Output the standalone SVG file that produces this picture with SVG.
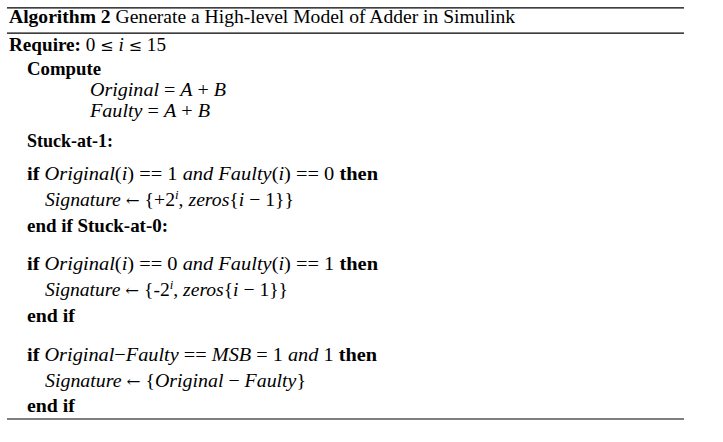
<svg xmlns="http://www.w3.org/2000/svg" width="723" height="442" viewBox="0 0 723 442">
<style>
.t{font-family:"Liberation Serif","Times New Roman",serif;font-size:19px;fill:#000}
.b{font-weight:bold}
.i{font-style:italic}
.s{font-size:12.5px;font-style:italic}
.m{font-family:"DejaVu Serif","Liberation Serif",serif;font-size:16px}
.r{stroke:#000;stroke-width:1.2;fill:none}
</style>
<rect width="723" height="442" fill="#fff"/>
<g id="rules">
<line class="r" x1="7" y1="7.8" x2="684" y2="7.8"/>
<line class="r" x1="7" y1="33.2" x2="684" y2="33.2"/>
<line class="r" x1="7" y1="419" x2="684" y2="419"/>
</g>
<g id="title"><text class="t" x="9" y="23" textLength="506" lengthAdjust="spacingAndGlyphs"><tspan class="b">Algorithm 2</tspan> Generate a High-level Model of Adder in Simulink</text></g>
<g id="require"><text class="t" x="9" y="51" textLength="157" lengthAdjust="spacingAndGlyphs"><tspan class="b">Require:</tspan>  0 <tspan class="m">≤</tspan> <tspan class="i">i</tspan> <tspan class="m">≤</tspan> 15</text></g>
<g id="compute"><text class="t b" x="27" y="74.5" textLength="74" lengthAdjust="spacingAndGlyphs">Compute</text></g>
<g id="original"><text class="t" x="90" y="96" textLength="136" lengthAdjust="spacingAndGlyphs"><tspan class="i">Original</tspan> = <tspan class="i">A</tspan> + <tspan class="i">B</tspan></text></g>
<g id="faulty"><text class="t" x="90" y="116.5" textLength="120" lengthAdjust="spacingAndGlyphs"><tspan class="i">Faulty</tspan> = <tspan class="i">A</tspan> + <tspan class="i">B</tspan></text></g>
<g id="sa1"><text class="t b" x="27" y="146.5" textLength="86" lengthAdjust="spacingAndGlyphs">Stuck-at-1:</text></g>
<g id="if1"><text class="t" x="27" y="179.5" textLength="351" lengthAdjust="spacingAndGlyphs"><tspan class="b">if</tspan> <tspan class="i">Original</tspan>(<tspan class="i">i</tspan>) == 1 <tspan class="i">and Faulty</tspan>(<tspan class="i">i</tspan>) == 0 <tspan class="b">then</tspan></text></g>
<g id="sig1"><text class="t" x="45" y="205.5" textLength="249" lengthAdjust="spacingAndGlyphs"><tspan class="i">Signature</tspan> <tspan class="m">←</tspan> {+2<tspan class="s" dy="-7">i</tspan><tspan dy="7">, </tspan><tspan class="i">zeros</tspan>{<tspan class="i">i</tspan> − 1}}</text></g>
<g id="endif1"><text class="t b" x="27" y="231.5" textLength="141" lengthAdjust="spacingAndGlyphs">end if Stuck-at-0:</text></g>
<g id="if2"><text class="t" x="27" y="269.5" textLength="351" lengthAdjust="spacingAndGlyphs"><tspan class="b">if</tspan> <tspan class="i">Original</tspan>(<tspan class="i">i</tspan>) == 0 <tspan class="i">and Faulty</tspan>(<tspan class="i">i</tspan>) == 1 <tspan class="b">then</tspan></text></g>
<g id="sig2"><text class="t" x="45" y="295.5" textLength="243" lengthAdjust="spacingAndGlyphs"><tspan class="i">Signature</tspan> <tspan class="m">←</tspan> {-2<tspan class="s" dy="-7">i</tspan><tspan dy="7">, </tspan><tspan class="i">zeros</tspan>{<tspan class="i">i</tspan> − 1}}</text></g>
<g id="endif2"><text class="t b" x="27" y="321.5" textLength="48" lengthAdjust="spacingAndGlyphs">end if</text></g>
<g id="if3"><text class="t" x="27" y="360.5" textLength="350" lengthAdjust="spacingAndGlyphs"><tspan class="b">if</tspan> <tspan class="i">Original</tspan>−<tspan class="i">Faulty</tspan> == <tspan class="i">MSB</tspan> = 1 <tspan class="i">and</tspan> 1 <tspan class="b">then</tspan></text></g>
<g id="sig3"><text class="t" x="45" y="386.5" textLength="261" lengthAdjust="spacingAndGlyphs"><tspan class="i">Signature</tspan> <tspan class="m">←</tspan> {<tspan class="i">Original</tspan> − <tspan class="i">Faulty</tspan>}</text></g>
<g id="endif3"><text class="t b" x="27" y="412" textLength="48" lengthAdjust="spacingAndGlyphs">end if</text></g>
</svg>
